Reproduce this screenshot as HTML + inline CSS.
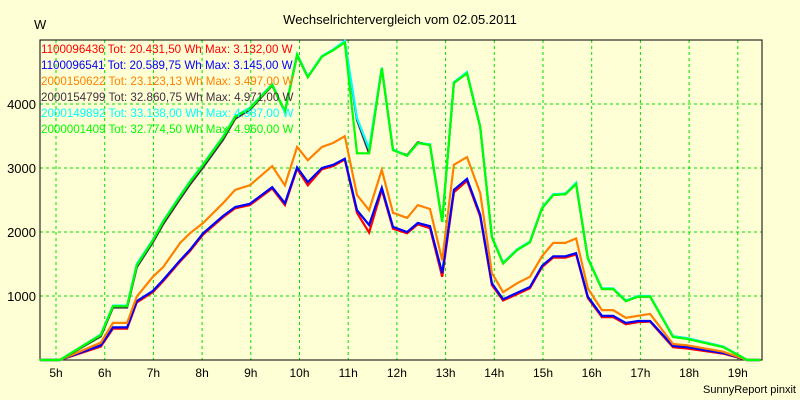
<!DOCTYPE html>
<html><head><meta charset="utf-8"><style>
body{margin:0;background:#ffffd5;}
svg{display:block;font-family:"Liberation Sans",sans-serif;}
</style></head><body>
<svg id="chart" width="800" height="400" viewBox="0 0 800 400">
<rect x="0" y="0" width="800" height="400" fill="#ffffd5"/>
<text x="400" y="24" text-anchor="middle" font-size="13" fill="#000">Wechselrichtervergleich vom 02.05.2011</text>
<text x="34" y="29" font-size="13" fill="#000">W</text>
<text x="796" y="393" text-anchor="end" font-size="11" fill="#000">SunnyReport pinxit</text>
<g id="grid"></g>
<g id="axes"></g>
<g id="series"></g>
<g id="legend"></g>
</svg>
<script>
const hourTicks=[5,6,7,8,9,10,11,12,13,14,15,16,17,18,19];
const valueTicks=[1000,2000,3000,4000];
const times=[4.67,5.08,5.92,6.17,6.46,6.66,6.99,7.20,7.55,7.75,8.02,8.43,8.68,8.98,9.44,9.70,9.95,10.17,10.46,10.69,10.93,11.18,11.43,11.69,11.92,12.21,12.43,12.68,12.93,13.17,13.44,13.71,13.95,14.18,14.47,14.73,14.98,15.21,15.46,15.68,15.92,16.21,16.44,16.70,16.95,17.20,17.67,17.96,18.70,19.19,19.46];
const seriesNames=["1100096436","1100096541","2000150622","2000154799","2000149892","2000001409"];
const seriesColors=["#ff0000","#0000ff","#ff8000","#403040","#00ffff","#00ff00"];
const seriesTot=["20.431,50","20.589,75","23.123,13","32.860,75","33.138,00","32.774,50"];
const seriesMax=["3.132,00","3.145,00","3.497,00","4.971,00","4.987,00","4.960,00"];
const redVals=[0,0,210,490,490,900,1060,1230,1540,1700,1960,2230,2370,2420,2680,2420,2990,2730,2980,3030,3132,2300,1990,2660,2050,1980,2120,2060,1300,2620,2800,2240,1170,930,1030,1120,1450,1600,1600,1650,970,670,670,560,590,600,200,180,100,0,0];
const blueVals=[0,0,230,510,510,920,1080,1250,1560,1720,1980,2250,2390,2440,2700,2450,3010,2780,3000,3050,3145,2340,2110,2690,2080,2000,2140,2090,1360,2660,2830,2270,1200,950,1050,1140,1470,1620,1620,1670,990,690,690,580,610,610,220,200,110,0,0];
const orangeVals=[0,0,270,580,580,990,1300,1450,1830,1980,2140,2450,2660,2730,3030,2730,3330,3120,3330,3390,3497,2580,2340,2970,2300,2220,2420,2360,1560,3050,3170,2610,1360,1060,1200,1300,1620,1830,1830,1900,1120,780,780,660,690,720,250,230,130,0,0];
const grayVals=[0,0,370,820,820,1450,1840,2120,2520,2740,3010,3440,3770,3910,4290,3880,4760,4420,4740,4840,4971,3750,3230,4560,3280,3200,3400,3360,2160,4330,4480,3640,1920,1510,1720,1840,2370,2580,2590,2750,1590,1110,1110,920,990,990,370,340,210,0,0];
const cyanVals=[0,0,400,850,850,1500,1880,2170,2570,2790,3060,3490,3810,3940,4310,3880,4780,4430,4750,4850,4987,3780,3300,4570,3290,3190,3390,3370,2160,4340,4500,3650,1930,1520,1730,1850,2380,2590,2600,2770,1600,1120,1120,930,1000,1000,370,340,210,0,0];
const greenVals=[0,0,390,840,840,1480,1870,2160,2560,2780,3050,3480,3800,3930,4300,3880,4770,4420,4740,4840,4960,3230,3230,4560,3280,3190,3390,3360,2160,4330,4480,3640,1920,1510,1720,1840,2370,2580,2590,2750,1590,1110,1110,920,990,990,360,330,200,0,0];
const allVals=[redVals,blueVals,orangeVals,grayVals,cyanVals,greenVals];

const NS="http://www.w3.org/2000/svg";
const L=40,R=762,T=40,B=360;
function xScale(h){return 56+(h-5)*48.7;}
function yScale(v){return B-v*0.064;}
function mk(tag,attrs,parent){const e=document.createElementNS(NS,tag);for(const k in attrs)e.setAttribute(k,attrs[k]);parent.appendChild(e);return e;}
const grid=document.getElementById('grid'),axes=document.getElementById('axes'),ser=document.getElementById('series'),leg=document.getElementById('legend');
hourTicks.forEach(h=>{
 const x=xScale(h);
 const l=mk('line',{x1:x,x2:x,y1:T,y2:B,stroke:'#00e000','stroke-width':1,'stroke-dasharray':'3,3'},grid);
 
 
 const t=mk('text',{x:x,y:377,'text-anchor':'middle','font-size':12,fill:'#000'},axes);
 t.textContent=h+'h';
 
 
});
valueTicks.forEach(v=>{
 const y=yScale(v);
 const l=mk('line',{x1:L,x2:R,y1:y,y2:y,stroke:'#00e000','stroke-width':1,'stroke-dasharray':'3,3'},grid);
 
 
 const t=mk('text',{x:36,y:y+5,'text-anchor':'end','font-size':13,fill:'#000'},axes);
 t.textContent=v;
 
 
});
const frame=mk('rect',{x:L,y:T,width:R-L,height:B-T,fill:'none',stroke:'#000','stroke-width':1},axes);


allVals.forEach((vals,i)=>{
 const pts=times.map((t,j)=>xScale(t).toFixed(1)+','+yScale(vals[j]).toFixed(1)).join(' ');
 const p=mk('polyline',{points:pts,fill:'none',stroke:seriesColors[i],'stroke-width':2.2,'stroke-linejoin':'miter'},ser);
 
 
 const t=mk('text',{x:41,y:53+i*16,'font-size':11.6,fill:seriesColors[i]},leg);
 t.textContent=seriesNames[i]+' Tot: '+seriesTot[i]+' Wh Max: '+seriesMax[i]+' W';
 
 
});
</script>
</body></html>
